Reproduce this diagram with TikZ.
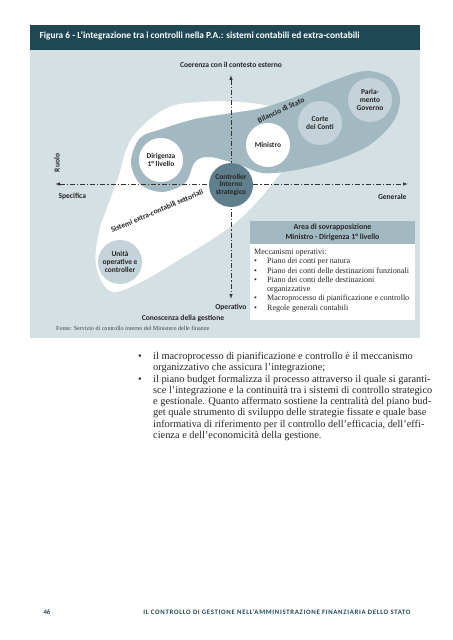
\documentclass[tikz,border=0pt]{standalone}
\usepackage{fontspec}
\setmainfont{Liberation Serif}
\setsansfont{Carlito}
\usetikzlibrary{arrows.meta}
\definecolor{headteal}{HTML}{1D4854}
\definecolor{panelgrey}{HTML}{D5E0E4}
\definecolor{tonguegrey}{HTML}{A3B9C2}
\definecolor{bubblegrey}{HTML}{C3D3D9}
\definecolor{ctrlteal}{HTML}{5E7F8B}
\tikzset{
  lbl/.style={font=\sffamily\bfseries\fontsize{7.6}{9}\selectfont, text=black!85},
  bubble/.style={circle, minimum size=44bp, inner sep=0pt, align=center,
    font=\sffamily\bfseries\fontsize{7.5}{8}\selectfont, text=black!85},
  axis/.style={line width=0.8bp, black!80, dash pattern=on 5bp off 2bp on 1.2bp off 2bp,
    {Latex[length=5bp,width=3.5bp]}-{Latex[length=5bp,width=3.5bp]}},
  bodytxt/.style={align=left, inner sep=0pt, font=\fontsize{10.4}{11.3}\selectfont, text=black!85},
}
\begin{document}
\begin{tikzpicture}[x=1bp,y=-1bp]
\useasboundingbox (0,0) rectangle (453,640);
%
\fill[headteal] (30,25) rectangle (420,50);
\fill[panelgrey] (30,50) rectangle (420,338);
\node(title) at (36,36) [anchor=west, text=white, font=\sffamily\bfseries\fontsize{9.4}{10}\selectfont]
  {Figura 6 - L’integrazione tra i controlli nella P.A.: sistemi contabili ed extra-contabili};
%
% sistemi extra-contabili
\fill[white] plot[smooth cycle, tension=0.6] coordinates {(110,291) (96,265) (99,232) (107,208)
  (118,178) (132,138) (165,109) (200,102) (240,102) (275,108) (300,125) (292,160) (280,174)
  (257,202) (230,227) (182,258) (137,284)};
% bilancio di stato
\fill[tonguegrey] plot[smooth cycle, tension=0.55] coordinates {(131,162) (140,138) (162,129)
  (195,119) (232,113) (262,108) (295,97) (330,82) (365,71) (390,78) (400,98) (393,122)
  (368,146) (330,162) (290,171) (262,173) (240,165) (210,157) (195,162) (185,183) (162,192)
  (140,184)};
%
\node[bubble, fill=white](dir) at (161,160) {Dirigenza\\1° livello};
\node[bubble, fill=white](min) at (268,145) {Ministro};
\node[bubble, fill=bubblegrey](corte) at (320,123) {Corte\\dei Conti};
\node[bubble, fill=bubblegrey](parl) at (370,100) {Parla-\\mento\\Governo};
\node[bubble, fill=bubblegrey](unita) at (120,262) {Unità\\operative e\\controller};
%
\node(bil) at (281,110) [lbl, rotate=25, inner sep=0pt] {Bilancio di Stato};
\node(sis) at (157,211) [lbl, rotate=23, inner sep=0pt] {Sistemi extra-contabili settoriali};
%
% assi
\coordinate(west) at (55,184);
\coordinate(east) at (408,184);
\coordinate(north) at (231,75);
\coordinate(south) at (231,299);
\draw[axis](west) -- (east);
\draw[axis](north) -- (south);
\node[bubble, fill=ctrlteal](ctrl) at (231,185) {Controller\\interno\\strategico};
%
\node(coer) at (231,65) [lbl] {Coerenza con il contesto esterno};
\node(ruolo) at (57,163) [lbl, rotate=90] {Ruolo};
\node(spec) at (55,196) [lbl, anchor=west] {Specifica};
\node(gen) at (410,197) [lbl, anchor=east] {Generale};
\node(oper) at (250,307) [lbl, anchor=east] {Operativo};
\node(cono) at (183,318) [lbl] {Conoscenza della gestione};
\node(fonte) at (56,328) [anchor=west, inner sep=0pt, font=\fontsize{6.1}{7}\selectfont, text=black!75]
  {Fonte: Servizio di controllo interno del Ministero delle finanze};
%
% area di sovrapposizione
\fill[tonguegrey] (250,221) rectangle (415,244);
\fill[white] (250,244) rectangle (415,320);
\node(areah) at (332.5,232.5) [lbl, align=center, font=\sffamily\bfseries\fontsize{7.9}{9.5}\selectfont]
  {Area di sovrapposizione\\Ministro - Dirigenza 1° livello};
\node(mecc) at (254,249) [anchor=north west, bodytxt, font=\fontsize{8.1}{9.3}\selectfont]
  {Meccanismi operativi:\\
   \makebox[13bp][l]{•}Piano dei conti per natura\\
   \makebox[13bp][l]{•}Piano dei conti delle destinazioni funzionali\\
   \makebox[13bp][l]{•}Piano dei conti delle destinazioni\\
   \hspace*{13bp}organizzative\\
   \makebox[13bp][l]{•}Macroprocesso di pianificazione e controllo\\
   \makebox[13bp][l]{•}Regole generali contabili};
%
% testo
\node(testo) at (138,352) [anchor=north west, bodytxt]
  {\makebox[15bp][l]{•}il macroprocesso di pianificazione e controllo è il meccanismo\\
   \hspace*{15bp}organizzativo che assicura l’integrazione;\\
   \makebox[15bp][l]{•}il piano budget formalizza il processo attraverso il quale si garanti-\\
   \hspace*{15bp}sce l’integrazione e la continuità tra i sistemi di controllo strategico\\
   \hspace*{15bp}e gestionale. Quanto affermato sostiene la centralità del piano bud-\\
   \hspace*{15bp}get quale strumento di sviluppo delle strategie fissate e quale base\\
   \hspace*{15bp}informativa di riferimento per il controllo dell’efficacia, dell’effi-\\
   \hspace*{15bp}cienza e dell’economicità della gestione.};
%
\node(pag) at (40,612) [anchor=west, text=headteal, font=\sffamily\bfseries\fontsize{6.8}{7}\selectfont] {46};
\node(run) at (414,612) [anchor=east, text=headteal, font=\sffamily\bfseries\fontsize{6.8}{7}\selectfont\addfontfeature{LetterSpace=10}]
  {IL CONTROLLO DI GESTIONE NELL’AMMINISTRAZIONE FINANZIARIA DELLO STATO};
\end{tikzpicture}
\end{document}
